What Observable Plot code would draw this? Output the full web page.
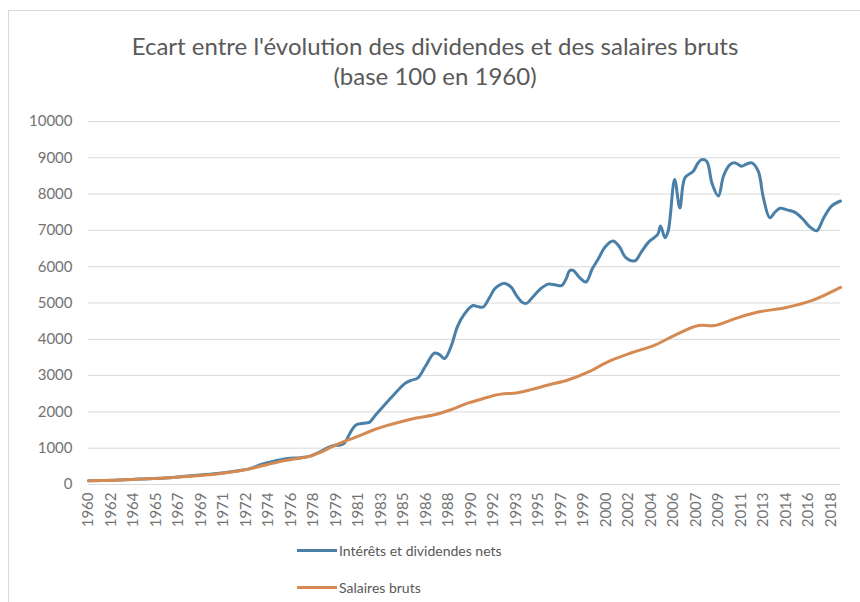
<!DOCTYPE html>
<html>
<head>
<meta charset="utf-8">
<script src="https://cdn.jsdelivr.net/npm/d3@7"></script>
<script src="https://cdn.jsdelivr.net/npm/@observablehq/plot@0.6"></script>
<style>
  body { margin: 0; background: #fff; font-family: Lato, "Open Sans", sans-serif; }
  #frame { position: absolute; left: 8px; top: 10px; width: 900px; height: 700px;
           border-left: 1px solid #d9d9d9; border-top: 1px solid #d9d9d9; }
  .title { position: absolute; left: 0; width: 870px; text-align: center; color: #595959;
           font-size: 24px; line-height: 29px; white-space: nowrap; }
  #chart { position: absolute; left: 0; top: 0; }
  #legend { position: absolute; left: 297px; top: 538px; color: #595959; font-size: 14px; }
  .row { display: flex; align-items: center; height: 24px; margin-bottom: 13px; }
  .sw { width: 40px; height: 3px; margin-right: 2px; }
</style>
</head>
<body>
<div id="frame"></div>
<div class="title" style="top:31px">Ecart entre l'évolution des dividendes et des salaires bruts</div>
<div class="title" style="top:61px">(base 100 en 1960)</div>
<div id="chart"></div>
<div id="legend"></div>
<script>
const seriesNames = ["Intérêts et dividendes nets", "Salaires bruts"];
const seriesColors = ["#4a80a8", "#d48a52"];

const divYears = [1960,1962,1964,1966,1968,1970,1971.5,1972.5,1973.5,1974.5,1975.5,1976.5,1977.3,1978,1978.7,1979.2,1979.6,1979.9,1980.4,1980.8,1981.4,1981.85,1982.3,1982.8,1983.7,1984.6,1985.1,1985.6,1986.2,1986.9,1987.3,1987.7,1988.2,1988.7,1989.25,1989.9,1990.3,1990.7,1991.2,1991.6,1992.0,1992.4,1992.9,1993.3,1993.7,1994.06,1994.6,1995.2,1995.75,1996.3,1996.8,1997.2,1997.4,1997.7,1998.2,1998.7,1999.2,1999.65,2000.2,2000.8,2001.3,2001.8,2002.5,2003.0,2003.55,2004.0,2004.3,2004.5,2004.85,2005.1,2005.6,2006.0,2006.4,2007.05,2007.4,2007.7,2008.1,2008.5,2009.0,2009.4,2009.9,2010.3,2010.8,2011.2,2011.6,2012.1,2012.5,2013.0,2013.4,2013.8,2014.4,2015.0,2015.6,2016.1,2016.65,2017.2,2017.8,2018.5];
const divValues = [100,120,150,180,240,300,370,430,560,650,720,740,790,900,1030,1080,1090,1140,1450,1640,1690,1710,1900,2100,2450,2780,2870,2930,3250,3620,3580,3470,3800,4350,4700,4930,4900,4890,5150,5390,5500,5540,5430,5200,5030,4990,5180,5400,5520,5500,5480,5700,5880,5900,5700,5580,5950,6210,6550,6710,6550,6250,6160,6400,6670,6800,6900,7120,6800,6990,8400,7620,8450,8630,8850,8950,8900,8300,7950,8500,8810,8860,8770,8830,8860,8630,7900,7350,7500,7610,7560,7490,7300,7100,6990,7350,7670,7810];

const salYears = [1960,1962,1964,1966,1968,1970,1972,1973,1974,1975,1976,1977,1978,1979,1980,1981,1982,1983,1984.3,1985.5,1986.9,1988.2,1989.5,1990.55,1991.6,1992.1,1993.4,1994.5,1995.75,1997.3,1998.9,2000.4,2002.25,2004.05,2005.6,2007.45,2008.7,2010.3,2012.1,2014.2,2016.3,2018.5];
const salValues = [100,120,150,180,230,290,390,470,560,640,700,760,880,1050,1200,1330,1480,1600,1730,1830,1920,2060,2240,2350,2460,2490,2530,2620,2740,2880,3100,3380,3630,3840,4110,4380,4380,4570,4750,4870,5070,5430];

const xTickLabels = ["1960","1962","1964","1965","1967","1969","1971","1972","1974","1976","1978","1979","1981","1983","1985","1986","1988","1990","1992","1993","1995","1997","1999","2000","2002","2004","2006","2007","2009","2011","2013","2014","2016","2018"];
const yTicks = [0,1000,2000,3000,4000,5000,6000,7000,8000,9000,10000];

// Category-style axis: a label every 7 quarters
const xTickPos = xTickLabels.map((_, i) => 1960 + i * 1.75);
const labelMap = new Map(xTickPos.map((p, i) => [p, xTickLabels[i]]));

const div = divYears.map((y, i) => ({year: y, value: divValues[i]}));
const sal = salYears.map((y, i) => ({year: y, value: salValues[i]}));

const chart = Plot.plot({
  width: 860,
  height: 545,
  marginLeft: 88,
  marginRight: 20,
  marginTop: 121,
  marginBottom: 61,
  style: {fontFamily: "Lato, sans-serif", background: "transparent"},
  x: {domain: [1960, 2018.5]},
  y: {domain: [0, 10000]},
  marks: [
    Plot.gridY(yTicks, {stroke: "#d9d9d9", strokeOpacity: 1, strokeWidth: 1}),
    Plot.axisY(yTicks, {tickSize: 0, tickPadding: 16, fontSize: 15, fill: "#737373", label: null,
      tickFormat: d => String(d)}),
    Plot.axisX(xTickPos, {tickSize: 0, tickRotate: -90, tickPadding: 8, fontSize: 15, fill: "#737373",
      tickFormat: d => labelMap.get(d), label: null}),
    Plot.line(div, {x: "year", y: "value", stroke: seriesColors[0], strokeWidth: 3, curve: "catmull-rom"}),
    Plot.line(sal, {x: "year", y: "value", stroke: seriesColors[1], strokeWidth: 3, curve: "catmull-rom"})
  ]
});
document.getElementById("chart").appendChild(chart);

const legend = document.getElementById("legend");
seriesNames.forEach((name, i) => {
  const row = document.createElement("div");
  row.className = "row";
  const sw = document.createElement("div");
  sw.className = "sw";
  sw.style.background = seriesColors[i];
  const t = document.createElement("span");
  t.textContent = name;
  row.appendChild(sw);
  row.appendChild(t);
  legend.appendChild(row);
});
</script>
</body>
</html>
